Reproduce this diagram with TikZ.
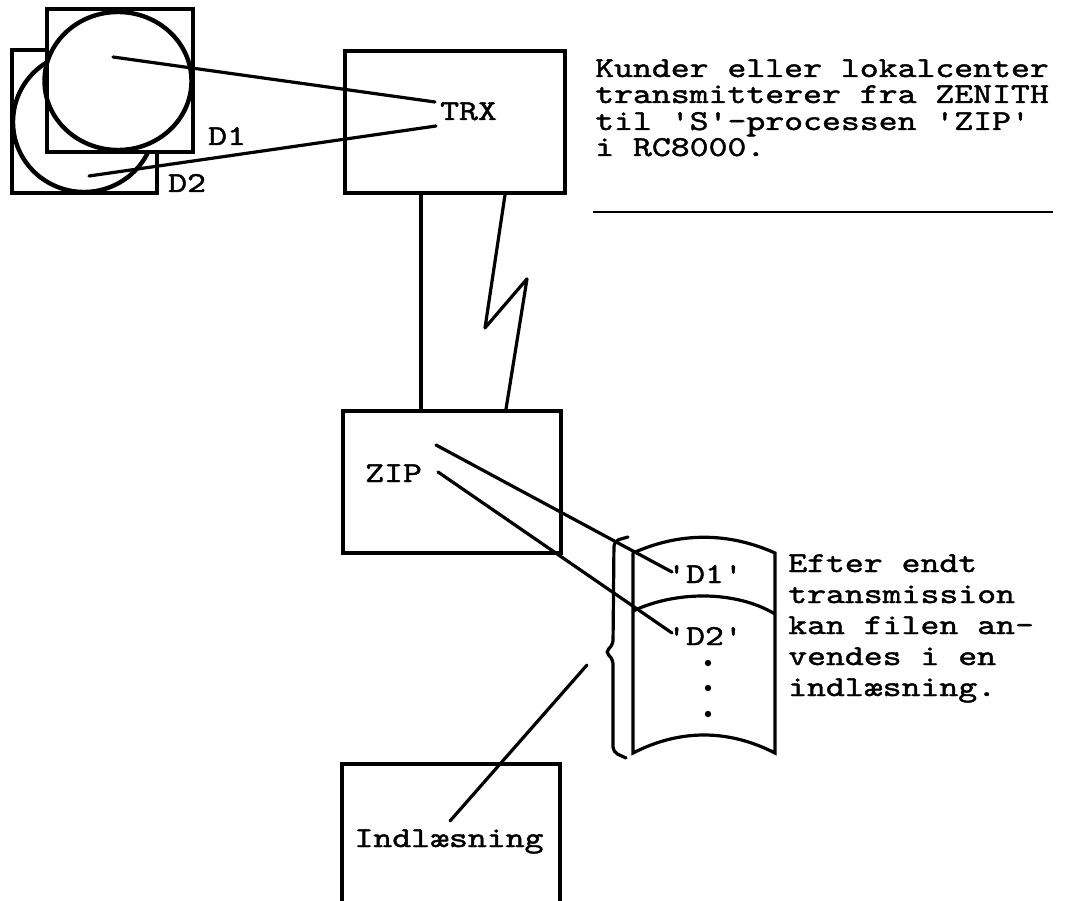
\documentclass[tikz,border=0pt]{standalone}
\usepackage{fontspec}
\newfontfamily\maskine{lmmono10-regular.otf}[FakeStretch=1.25,FakeBold=1.5]
\usetikzlibrary{calc,shapes.geometric}

\begin{document}
\begin{tikzpicture}[x=1pt,y=-1pt,
	boks/.style={draw, line width=3.8pt, fill=white, inner sep=0pt},
	skive/.style={draw, ellipse, line width=4.4pt, inner sep=0pt},
	skrift/.style={font=\maskine\fontsize{28.8}{30}\selectfont, inner sep=0pt, anchor=base west},
	streg/.style={line width=3.2pt, line cap=round}]
	\useasboundingbox (0,0) rectangle (1068,901);
	% disketterne
	\node[boks, minimum width=145, minimum height=143] (kv2) at (84.5,121.5) {};
	\node[skive, minimum width=142, minimum height=140] (d2) at (84,122) {};
	\node[boks, minimum width=146, minimum height=143] (kv1) at (120,80.5) {};
	\node[skive, minimum width=147, minimum height=138] (d1) at (118,81) {};
	\node[skrift] (n1) at (208,145) {D1};
	\node[skrift] (n2) at (168,192) {D2};
	% kasserne
	\node[boks, minimum width=220, minimum height=142] (trx) at (455,122) {};
	\node[skrift] (trxtekst) at (440,120) {TRX};
	\node[boks, minimum width=218, minimum height=142] (zip) at (452,482) {};
	\node[skrift] (ziptekst) at (365,482) {ZIP};
	\node[boks, minimum width=218, minimum height=170, anchor=north] (indl) at (451,762) {};
	\node[skrift, anchor=base] (indltekst) at (449,847) {Indlæsning};
	% forbindelser
	\coordinate (a1) at (113,57);  \coordinate (b1) at (435,102);
	\coordinate (a2) at (89,176);  \coordinate (b2) at (436,126);
	\coordinate (z1) at (436,445); \coordinate (f1) at (672,572);
	\coordinate (z2) at (438,472); \coordinate (f2) at (672,633);
	\coordinate (i1) at (450,821); \coordinate (i2) at (587,665);
	\draw[streg] (a1) -- (b1);
	\draw[streg] (a2) -- (b2);
	\draw[streg] ([xshift=-34]trx.south) -- ([xshift=-34]trx.south |- zip.north);
	\draw[streg, line join=round] ([xshift=50]trx.south) -- ++(-20,133) -- ++(42,-49) -- ([xshift=54]zip.north);
	\draw[streg] (z1) -- (f1);
	\draw[streg] (z2) -- (f2);
	\draw[streg] (i1) -- (i2);
	% tekst oeverst
	\foreach \linje/\y [count=\i] in
	{Kunder eller lokalcenter/77,
	transmitterer fra ZENITH/103,
	til 'S'-processen 'ZIP'/130,
	i RC8000./156}
		{\node[skrift] (top\i) at (595,\y) {\linje};}
	\draw[line width=2.6pt] (593,212) -- (1053,212);
	% filen
	\draw[streg] (633,553) -- (633,753) .. controls (680,729) and (728,729) .. (775,753)
		-- (775,553) .. controls (728,532) and (680,532) .. (633,553);
	\draw[streg] (633,611) .. controls (675,591) and (735,590) .. (775,614);
	\node[skrift, anchor=base] (fil1) at (705,583) {'D1'};
	\node[skrift, anchor=base] (fil2) at (705,645) {'D2'};
	\foreach \y in {663,688,714}
		{\fill (708,\y) circle[radius=3.2];}
	\draw[streg, rounded corners=5] (628,537) -- (614,541) -- (613,645) -- (605,652)
		-- (613,659) -- (613,752) -- (626,758);
	% tekst til hoejre
	\foreach \linje/\y [count=\i] in
	{Efter endt/572,
	transmission/603,
	kan filen an-/634,
	vendes i en/665,
	indlæsning./696}
		{\node[skrift] (hoejre\i) at (788,\y) {\linje};}
\end{tikzpicture}
\end{document}
